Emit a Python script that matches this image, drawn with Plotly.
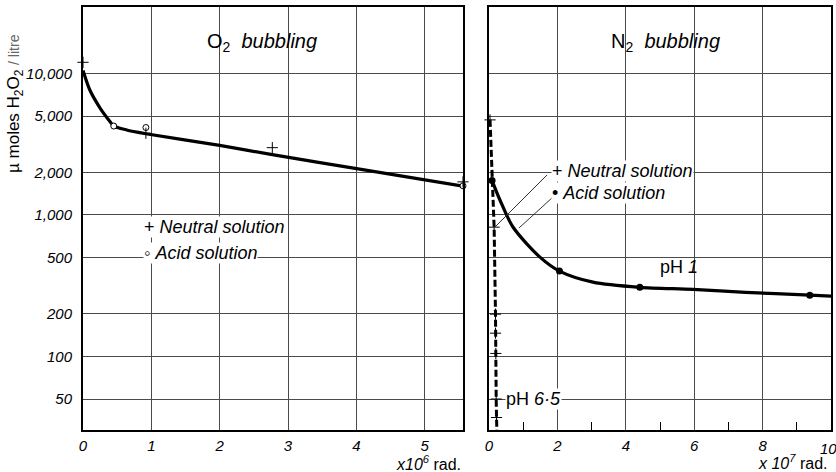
import numpy as np
import plotly.graph_objects as go

# ---- O2 bubbling (dose in units of 10^6 rad) ----
o2_curve_x = [0, 0.10, 0.25, 0.40, 0.45, 0.64, 0.79, 0.92, 2.0, 2.77, 4.07, 5.56]
o2_curve_y = [10500, 7640, 5700, 4540, 4250, 3990, 3850, 3750, 3100, 2670, 2100, 1600]
o2_neutral_x = [0, 0.92, 2.77, 5.56]
o2_neutral_y = [12000, 3780, 2990, 1714]
o2_acid_x = [0.45, 0.92, 5.56]
o2_acid_y = [4250, 4150, 1607]

# ---- N2 bubbling (dose in units of 10^7 rad) ----
n2_acid_curve_x = [0.09, 0.32, 0.70, 1.49, 2.06, 3.04, 4.41, 5.96, 7.5, 9.38, 10.0]
n2_acid_curve_y = [1750, 1276, 822, 503, 401, 335, 308, 298, 284, 271, 267]
n2_acid_x = [0.09, 2.06, 4.41, 9.38]
n2_acid_y = [1750, 401, 308, 271]
n2_neutral_line_x = [0.03, 0.15, 0.19, 0.19, 0.20, 0.21, 0.22, 0.23]
n2_neutral_line_y = [4700, 820, 199, 146, 105, 50, 37, 30]
n2_neutral_x = [0.03, 0.15, 0.19, 0.19, 0.20, 0.21, 0.22]
n2_neutral_y = [4700, 820, 199, 146, 105, 50, 37]

# axis ticks
y_ticks = [50, 100, 200, 500, 1000, 2000, 5000, 10000]
y_ticktext = ["50", "100", "200", "500", "1,000", "2,000", "5,000", "10,000"]
x1_ticks = [0, 1, 2, 3, 4, 5]
x2_ticks = [0, 2, 4, 6, 8]
x2_last_tick = 10
x2_minor = [1, 3, 5, 7, 9]

FONT = "Liberation Sans"
INK = "black"
GRID = "#4a4a4a"

fig = go.Figure()

# O2 panel
fig.add_trace(go.Scatter(x=o2_curve_x, y=o2_curve_y, mode="lines",
                         line=dict(color=INK, width=3.2, shape="spline", smoothing=0.7),
                         xaxis="x", yaxis="y", showlegend=False, hoverinfo="skip"))
fig.add_trace(go.Scatter(x=o2_acid_x, y=o2_acid_y, mode="markers",
                         marker=dict(symbol="circle", size=6, color="white",
                                     line=dict(color=INK, width=1)),
                         xaxis="x", yaxis="y", showlegend=False, cliponaxis=False))
fig.add_trace(go.Scatter(x=o2_neutral_x, y=o2_neutral_y, mode="markers",
                         marker=dict(symbol="cross-thin", size=8, color=INK,
                                     line=dict(color=INK, width=1)),
                         xaxis="x", yaxis="y", showlegend=False, cliponaxis=False))

# N2 panel
fig.add_trace(go.Scatter(x=n2_neutral_line_x, y=n2_neutral_line_y, mode="lines",
                         line=dict(color=INK, width=3, dash="7px,3px"),
                         xaxis="x2", yaxis="y2", showlegend=False, hoverinfo="skip"))
fig.add_trace(go.Scatter(x=n2_neutral_x, y=n2_neutral_y, mode="markers",
                         marker=dict(symbol="cross-thin", size=8, color=INK,
                                     line=dict(color=INK, width=1)),
                         xaxis="x2", yaxis="y2", showlegend=False, cliponaxis=False))
fig.add_trace(go.Scatter(x=n2_acid_curve_x, y=n2_acid_curve_y, mode="lines",
                         line=dict(color=INK, width=3.2, shape="spline", smoothing=0.8),
                         xaxis="x2", yaxis="y2", showlegend=False, hoverinfo="skip"))
fig.add_trace(go.Scatter(x=n2_acid_x, y=n2_acid_y, mode="markers",
                         marker=dict(symbol="circle", size=7, color=INK),
                         xaxis="x2", yaxis="y2", showlegend=False, cliponaxis=False))

# leader lines from the key labels to the curves
fig.add_trace(go.Scatter(x=[1.70, 0.146], y=[1919, 809], mode="lines",
                         line=dict(color="#333", width=1),
                         xaxis="x2", yaxis="y2", showlegend=False, hoverinfo="skip"))
fig.add_trace(go.Scatter(x=[1.84, 0.877], y=[1318, 809], mode="lines",
                         line=dict(color="#333", width=1),
                         xaxis="x2", yaxis="y2", showlegend=False, hoverinfo="skip"))

tickfont = dict(family=FONT, size=15, color=INK, style="italic")
axis_common = dict(showline=True, mirror=True, linecolor=INK, linewidth=2,
                   showgrid=True, gridcolor=GRID, gridwidth=1, zeroline=False,
                   ticks="", tickfont=tickfont, automargin=False)

fig.update_layout(
    width=836, height=472,
    margin=dict(l=0, r=0, t=0, b=0),
    paper_bgcolor="white", plot_bgcolor="white",
    font=dict(family=FONT, color=INK),
    xaxis=dict(domain=[83 / 836, 463 / 836], range=[0, 5.56], tickmode="array",
               tickvals=x1_ticks, ticktext=[str(v) for v in x1_ticks],
               anchor="y", ticklabelstandoff=1, **axis_common),
    xaxis2=dict(domain=[489 / 836, 831 / 836], range=[0, 10], tickmode="array",
                tickvals=x2_ticks, ticktext=[str(v) for v in x2_ticks],
                anchor="y2", ticklabelstandoff=1,
                minor=dict(tickmode="array", tickvals=x2_minor, ticks="inside",
                           ticklen=8, tickcolor=INK, tickwidth=1, showgrid=False),
                **axis_common),
    yaxis=dict(domain=[1 - 430 / 472, 1 - 7 / 472], type="log", range=[1.48, 4.47],
               tickmode="array", tickvals=y_ticks, ticktext=y_ticktext,
               anchor="x", ticklabelstandoff=6, **axis_common),
    yaxis2=dict(domain=[1 - 430 / 472, 1 - 7 / 472], type="log", range=[1.48, 4.47],
                tickmode="array", tickvals=y_ticks, showticklabels=False,
                anchor="x2", **axis_common),
)

lg = np.log10
ann = []
# last tick label of the N2 dose axis, kept inside the page
ann.append(dict(x=x2_last_tick, y=1 - 448 / 472, xref="x2", yref="paper",
                xanchor="center", yanchor="middle", xshift=-3,
                text=str(x2_last_tick), showarrow=False, font=tickfont))
# panel headings
ann.append(dict(x=2.62, y=lg(16450), xref="x", yref="y",
                text="O<sub>2</sub>  <i>bubbling</i>", showarrow=False,
                font=dict(family=FONT, size=20, color=INK)))
ann.append(dict(x=5.15, y=lg(16450), xref="x2", yref="y2",
                text="N<sub>2</sub>  <i>bubbling</i>", showarrow=False,
                font=dict(family=FONT, size=20, color=INK)))
# keys
key_font = dict(family=FONT, size=18, color=INK)
ann.append(dict(x=0.88, y=2.915, xref="x", yref="y", xanchor="left",
                text="+ <i>Neutral solution</i>", showarrow=False,
                bgcolor="white", borderpad=0, font=key_font))
ann.append(dict(x=0.88, y=2.731, xref="x", yref="y", xanchor="left",
                text="\u25e6 <i>Acid solution</i>", showarrow=False,
                bgcolor="white", borderpad=0, font=key_font))
ann.append(dict(x=1.80, y=3.311, xref="x2", yref="y2", xanchor="left",
                text="+ <i>Neutral solution</i>", showarrow=False,
                bgcolor="white", borderpad=0, font=key_font))
ann.append(dict(x=1.80, y=3.155, xref="x2", yref="y2", xanchor="left",
                text="\u2022 <i>Acid solution</i>", showarrow=False,
                bgcolor="white", borderpad=0, font=key_font))
# pH labels
ann.append(dict(x=4.94, y=2.633, xref="x2", yref="y2", xanchor="left",
                text="pH <i>1</i>", showarrow=False, font=key_font))
ann.append(dict(x=0.47, y=lg(50), xref="x2", yref="y2", xanchor="left",
                text="pH <i>6\u00b75</i>", showarrow=False,
                bgcolor="white", borderpad=0, font=key_font))
# dose units
ann.append(dict(x=463 / 836, y=1 - 463 / 472, xref="paper", yref="paper",
                xanchor="right", yanchor="middle",
                text="<i>x10<sup>6</sup></i> rad.", showarrow=False,
                font=dict(family=FONT, size=16, color=INK)))
ann.append(dict(x=830 / 836, y=1 - 462 / 472, xref="paper", yref="paper",
                xanchor="right", yanchor="middle",
                text="<i>x 10<sup>7</sup></i> rad.", showarrow=False,
                font=dict(family=FONT, size=16, color=INK)))
# y-axis title
ann.append(dict(x=15 / 836, y=1 - 104 / 472, xref="paper", yref="paper",
                xanchor="center", yanchor="middle",
                text="\u00b5 moles H<sub>2</sub>O<sub>2</sub> "
                     "<span style='font-size:14px;color:#666'>/ litre</span>",
                textangle=-90, showarrow=False,
                font=dict(family=FONT, size=17, color=INK)))
fig.update_layout(annotations=ann)

fig.write_html("out.html")
